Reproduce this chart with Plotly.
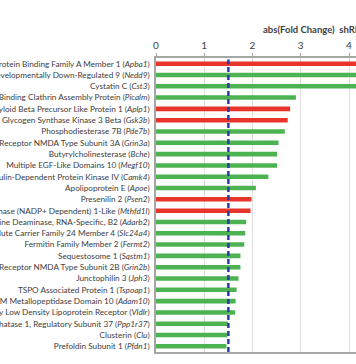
import plotly.graph_objects as go

names = [
    "Amyloid Beta Precursor Protein Binding Family A Member 1",
    "Neural Precursor Cell Expressed, Developmentally Down-Regulated 9",
    "Cystatin C",
    "Phosphatidylinositol Binding Clathrin Assembly Protein",
    "Amyloid Beta Precursor Like Protein 1",
    "Glycogen Synthase Kinase 3 Beta",
    "Phosphodiesterase 7B",
    "Glutamate Ionotropic Receptor NMDA Type Subunit 3A",
    "Butyrylcholinesterase",
    "Multiple EGF-Like Domains 10",
    "Calcium/Calmodulin-Dependent Protein Kinase IV",
    "Apolipoprotein E",
    "Presenilin 2",
    "Methylenetetrahydrofolate Dehydrogenase (NADP+ Dependent) 1-Like",
    "Adenosine Deaminase, RNA-Specific, B2",
    "Solute Carrier Family 24 Member 4",
    "Fermitin Family Member 2",
    "Sequestosome 1",
    "Glutamate Ionotropic Receptor NMDA Type Subunit 2B",
    "Junctophilin 3",
    "TSPO Associated Protein 1",
    "ADAM Metallopeptidase Domain 10",
    "Very Low Density Lipoprotein Receptor",
    "Protein Phosphatase 1, Regulatory Subunit 37",
    "Clusterin",
    "Prefoldin Subunit 1",
]
genes = ["Apba1", "Nedd9", "Cst3", "Picalm", "Aplp1", "Gsk3b", "Pde7b", "Grin3a",
         "Bche", "Megf10", "Camk4", "Apoe", "Psen2", "Mthfd1l", "Adarb2", "Slc24a4",
         "Fermt2", "Sqstm1", "Grin2b", "Jph3", "Tspoap1", "Adam10", "Vldlr",
         "Ppp1r37", "Clu", "Pfdn1"]
fold_change = [4.9, 4.6, 4.4, 2.90, 2.78, 2.73, 2.67, 2.54, 2.51, 2.51, 2.33, 2.07,
               1.98, 1.96, 1.87, 1.85, 1.83, 1.75, 1.75, 1.71, 1.67, 1.65, 1.64,
               1.49, 1.48, 1.46]
direction = ["down", "up", "up", "up", "down", "down", "up", "up", "up", "up", "up",
             "up", "down", "down", "up", "up", "up", "up", "up", "up", "up", "up",
             "up", "up", "up", "up"]
threshold = 1.5
x_ticks = [0, 1, 2, 3, 4]

RED = "#e8352c"
GREEN = "#4db352"
FONT = "Lato, sans-serif"
colors = [RED if d == "down" else GREEN for d in direction]
labels = [f"{n} (<i>{g}</i>)" for n, g in zip(names, genes)]

fig = go.Figure()
fig.add_trace(go.Bar(
    x=fold_change, y=genes, orientation="h",
    marker=dict(color=colors, line=dict(width=0)),
    showlegend=False,
))

fig.add_shape(type="line", xref="x", yref="paper", x0=threshold, x1=threshold,
              y0=0, y1=0.995, line=dict(color="#2a3ca6", width=2.5, dash="5px,3px"))

fig.add_annotation(text="<b>abs(Fold Change)  shRNA</b>", xref="paper", yref="paper",
                   x=(261 - 156) / 200, y=1 + (58 - 30) / 294, xanchor="left",
                   yanchor="middle", showarrow=False,
                   font=dict(family=FONT, size=9.5, color="#404040"))

fig.update_layout(
    template="none",
    width=356, height=364,
    margin=dict(l=156, r=0, t=58, b=12, autoexpand=False),
    paper_bgcolor="white", plot_bgcolor="white",
    bargap=0.6,
    font=dict(family=FONT, color="#404040"),
)
fig.update_xaxes(
    side="top", range=[0, 200 / 48.25], tickvals=x_ticks,
    showgrid=True, gridcolor="#e0e0e0", gridwidth=1,
    showline=True, linecolor="#a6a6a6", linewidth=1.5, mirror=True,
    ticks="outside", ticklen=3, tickcolor="#a6a6a6",
    tickfont=dict(size=10, color="#404040"), zeroline=False, automargin=False,
)
fig.update_yaxes(
    tickmode="array", tickvals=genes, ticktext=labels,
    autorange="reversed", showline=True, linecolor="#a6a6a6", linewidth=1.5,
    ticks="", ticklabelstandoff=3, automargin=False,
    tickfont=dict(size=8.2, color="#404040"), showgrid=False, zeroline=False,
)

fig.write_html("out.html", config={"displayModeBar": False},
               post_script="document.body.style.margin='0px';")
